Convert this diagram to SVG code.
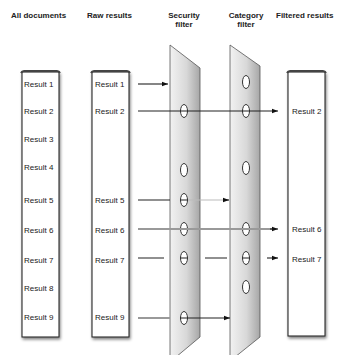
<svg xmlns="http://www.w3.org/2000/svg" width="339" height="355" viewBox="0 0 339 355">
<defs>
<style>
text{font-family:"Liberation Sans",Arial,sans-serif;fill:#222}
.h{font-size:8px;font-weight:bold}
.r{font-size:8px}
.box{fill:#fff;stroke:#2a2a2a;stroke-width:1.1}
.boxtop{fill:none;stroke:#444;stroke-width:2}
.hole{fill:#fff;stroke:#333;stroke-width:1}
.panel{stroke:#555;stroke-width:0.8}
.ln{stroke:#222;stroke-width:1.1;fill:none}
.lg{stroke:#999;stroke-width:2;fill:none}
.ll{stroke:#bbb;stroke-width:1;fill:none}
</style>
<linearGradient id="pg" x1="0" y1="0" x2="1" y2="0">
<stop offset="0" stop-color="#f2f2f2"/>
<stop offset="0.55" stop-color="#d8d8d8"/>
<stop offset="1" stop-color="#a6a6a6"/>
</linearGradient>
<filter id="sh" x="-20%" y="-5%" width="150%" height="115%">
<feGaussianBlur in="SourceAlpha" stdDeviation="1.5"/>
<feOffset dx="1" dy="2" result="b"/>
<feComponentTransfer><feFuncA type="linear" slope="0.5"/></feComponentTransfer>
<feMerge><feMergeNode/><feMergeNode in="SourceGraphic"/></feMerge>
</filter>
<marker id="ah" viewBox="0 0 6 6" refX="6" refY="3" markerWidth="6" markerHeight="6" markerUnits="userSpaceOnUse" orient="auto">
<path d="M0,0.8 L6,3 L0,5.2 Z" fill="#111"/>
</marker>
</defs>
<rect width="339" height="355" fill="#fff"/>

<g id="headers">
<text class="h" x="11" y="18">All documents</text>
<text class="h" x="87" y="18">Raw results</text>
<text class="h" x="184" y="18" text-anchor="middle">Security</text>
<text class="h" x="184" y="27" text-anchor="middle">filter</text>
<text class="h" x="246" y="18" text-anchor="middle">Category</text>
<text class="h" x="246" y="27" text-anchor="middle">filter</text>
<text class="h" x="276" y="18">Filtered results</text>
</g>

<g id="all-documents">
<rect class="box" x="22" y="72" width="37" height="265" filter="url(#sh)"/>
<path class="boxtop" d="M21,73 Q22,71 24,71 L57,71 Q59,71 60,73"/>
<text class="r" x="24" y="87">Result 1</text>
<text class="r" x="24" y="114">Result 2</text>
<text class="r" x="24" y="142">Result 3</text>
<text class="r" x="24" y="170">Result 4</text>
<text class="r" x="24" y="203">Result 5</text>
<text class="r" x="24" y="233">Result 6</text>
<text class="r" x="24" y="263">Result 7</text>
<text class="r" x="24" y="291">Result 8</text>
<text class="r" x="24" y="320">Result 9</text>
</g>

<g id="raw-results">
<rect class="box" x="92" y="72" width="37" height="265" filter="url(#sh)"/>
<path class="boxtop" d="M91,73 Q92,71 94,71 L127,71 Q129,71 130,73"/>
<text class="r" x="95" y="87">Result 1</text>
<text class="r" x="95" y="114">Result 2</text>
<text class="r" x="95" y="203">Result 5</text>
<text class="r" x="95" y="233">Result 6</text>
<text class="r" x="95" y="263">Result 7</text>
<text class="r" x="95" y="320">Result 9</text>
</g>

<g id="filtered-results">
<rect class="box" x="288" y="72" width="37" height="264" filter="url(#sh)"/>
<path class="boxtop" d="M287,73 Q288,71 290,71 L323,71 Q325,71 326,73"/>
<text class="r" x="292" y="114">Result 2</text>
<text class="r" x="292" y="232">Result 6</text>
<text class="r" x="292" y="262">Result 7</text>
</g>

<g id="security-filter">
<path class="panel" d="M170,45 L200,68 L200,337 L170,362 Z" fill="url(#pg)"/>
<ellipse class="hole" cx="184" cy="111" rx="3.5" ry="6.5"/>
<ellipse class="hole" cx="184" cy="170" rx="3.5" ry="6.5"/>
<ellipse class="hole" cx="184" cy="200" rx="3.5" ry="6.5"/>
<ellipse class="hole" cx="184" cy="229" rx="3.5" ry="6.5"/>
<ellipse class="hole" cx="184" cy="258" rx="3.5" ry="6.5"/>
<ellipse class="hole" cx="184" cy="318" rx="3.5" ry="6.5"/>
</g>

<g id="category-filter">
<path class="panel" d="M230,45 L260,66 L260,337 L230,361 Z" fill="url(#pg)"/>
<ellipse class="hole" cx="246" cy="82" rx="3.5" ry="6.5"/>
<ellipse class="hole" cx="246" cy="111" rx="3.5" ry="6.5"/>
<ellipse class="hole" cx="246" cy="168" rx="3.5" ry="6.5"/>
<ellipse class="hole" cx="246" cy="229" rx="3.5" ry="6.5"/>
<ellipse class="hole" cx="246" cy="258" rx="3.5" ry="6.5"/>
<ellipse class="hole" cx="246" cy="287" rx="3.5" ry="6.5"/>
</g>

<g id="connectors">
<path class="ln" d="M138,84 L168,84" marker-end="url(#ah)"/>
<path class="ln" d="M138,111 L278,111" marker-end="url(#ah)"/>
<path class="ln" d="M138,200 L170,200 M180.5,200 L187.5,200"/>
<path class="ll" d="M188,200 L226,200"/>
<path class="ln" d="M224,200 L229,200" marker-end="url(#ah)"/>
<path class="lg" d="M138,229 L272,229"/>
<path class="ln" d="M270,229 L278,229" marker-end="url(#ah)"/>
<path class="ln" d="M138,258 L164,258 M180.5,258 L187.5,258 M205,258 L227,258 M242.5,258 L249.5,258"/>
<path class="ln" d="M267,258 L278,258" marker-end="url(#ah)"/>
<path class="lg" d="M138,318 L170,318"/>
<path class="ln" d="M180,318 L230,318" marker-end="url(#ah)"/>
</g>
</svg>
